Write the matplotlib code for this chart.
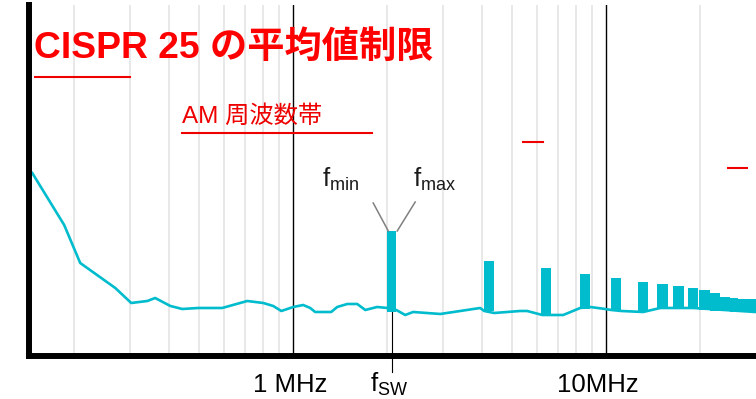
#CISPR 25 平均値制限とスペクトラム拡散スイッチング雑音
import numpy as np
import matplotlib.pyplot as plt

plt.rcParams['font.family'] = ['Liberation Sans', 'Noto Sans CJK JP']

CYAN = '#00bccd'
RED = '#ee0000'

#ノイズフロア (MHz, レベル)
floor_f = [0.1466, 0.1854, 0.2086, 0.270, 0.3036, 0.342, 0.362, 0.405, 0.442, 0.497,
           0.593, 0.713, 0.802, 0.863, 0.916, 1.0, 1.076, 1.133, 1.175, 1.322,
           1.382, 1.488, 1.601, 1.699, 1.854, 1.997, 2.134, 2.279, 2.416, 2.950,
           3.956, 4.077, 4.385, 5.31, 5.59, 6.25, 6.67, 7.29, 8.26, 8.89,
           9.93, 10.38, 11.17, 13.12, 14.88, 18.97, 30.0]
floor_lv = [36.8, 26.4, 18.8, 13.8, 10.8, 11.2, 11.8, 10.2, 9.6, 9.8,
            9.8, 11.2, 10.8, 10.2, 9.2, 10.0, 10.4, 9.8, 9.0, 9.0,
            10.0, 10.6, 10.6, 9.4, 10.0, 9.8, 9.4, 8.4, 9.0, 8.6,
            9.8, 9.2, 8.8, 9.2, 9.2, 8.4, 8.4, 8.4, 9.8, 10.0,
            9.6, 9.4, 9.2, 9.0, 9.8, 9.8, 9.0]

#fsw とその高調波 (fmin〜fmax の帯)
harm_lo = [1.997, 4.077, 6.20, 8.26, 10.37, 12.65, 14.55, 16.37, 18.28, 19.82, 21.49, 23.12, 24.89, 26.40]
harm_hi = [2.134, 4.387, 6.67, 8.89, 11.16, 13.62, 15.78, 17.75, 19.68, 21.49, 23.12, 24.89, 26.40, 30.0]
harm_top = [25.2, 19.2, 17.8, 16.6, 15.8, 15.0, 14.6, 14.2, 13.8, 13.4, 12.8, 12.0, 11.8, 11.6]
harm_bot = [9.0, 9.2, 8.6, 9.6, 9.2, 9.0, 9.6, 9.6, 9.6, 9.4, 9.2, 9.2, 9.0, 9.0]

#制限値の線
lim_lo = [0.150, 0.442, 5.43, 24.5]
lim_hi = [0.300, 1.79, 6.29, 28.2]
lim_lv = [56.0, 44.8, 43.0, 37.8]

grid_f = [0.2, 0.3, 0.4, 0.5, 0.6, 0.7, 0.8, 0.9, 2, 3, 4, 5, 6, 7, 8, 9, 20]
fsw = 2.072

fig = plt.figure(figsize=(7.56, 3.99), dpi=100)
ax = fig.add_axes([0.0377, 0.1078, 0.9623, 0.8797])
ax.set_xscale('log')
ax.set_xlim(0.1426, 30.1)
ax.set_ylim(0.2, 70.4)

for g in grid_f:
    ax.axvline(g, color='#e2e2e2', lw=1.1, zorder=0)
for g in [1, 10]:
    ax.axvline(g, color='black', lw=1.0, zorder=1)

ax.plot(floor_f, floor_lv, color=CYAN, lw=1.9, zorder=3)
for lo, hi, top, bot in zip(harm_lo, harm_hi, harm_top, harm_bot):
    ax.bar(lo, top - bot, width=hi - lo, bottom=bot, align='edge',
           color=CYAN, edgecolor='none', zorder=3)

for lo, hi, lv in zip(lim_lo, lim_hi, lim_lv):
    ax.plot([lo, hi], [lv, lv], color=RED, lw=1.5, zorder=4)

#fmin / fmax の引き出し線
ax.plot([1.801, 2.012], [30.8, 25.2], color='#808080', lw=1.1, zorder=4)
ax.plot([2.453, 2.149], [31.0, 25.2], color='#808080', lw=1.1, zorder=4)
ax.text(1.240, 34.0, r'$\mathregular{f_{min}}$', fontsize=18.5, color='#1a1a1a', va='baseline')
ax.text(2.410, 34.0, r'$\mathregular{f_{max}}$', fontsize=18.5, color='#1a1a1a', va='baseline')

ax.text(0.148, 59.8, 'CISPR 25 の平均値制限', fontsize=26.8, fontweight='bold', color='#ff0000', va='baseline')
ax.text(0.442, 46.8, 'AM 周波数帯', fontsize=17.5, color=RED, va='baseline')

#fsw の目盛り
ax.plot([fsw, fsw], [9.0, -3.0], color='black', lw=0.8, clip_on=False, zorder=2)
ax.text(0.975, -7.0, '1 MHz', fontsize=18.5, ha='center', va='baseline', clip_on=False)
ax.text(9.39, -7.0, '10MHz', fontsize=18.5, ha='center', va='baseline', clip_on=False)
ax.text(2.03, -7.0, r'$\mathregular{f_{SW}}$', fontsize=18.5, ha='center', va='baseline', clip_on=False)

for s in ['top', 'right']:
    ax.spines[s].set_visible(False)
for s in ['left', 'bottom']:
    ax.spines[s].set_linewidth(4.3)
    ax.spines[s].set_zorder(5)
ax.set_xticks([])
ax.set_yticks([])
ax.minorticks_off()
ax.tick_params(which='both', length=0)

fig.savefig('out.png', dpi=100)
